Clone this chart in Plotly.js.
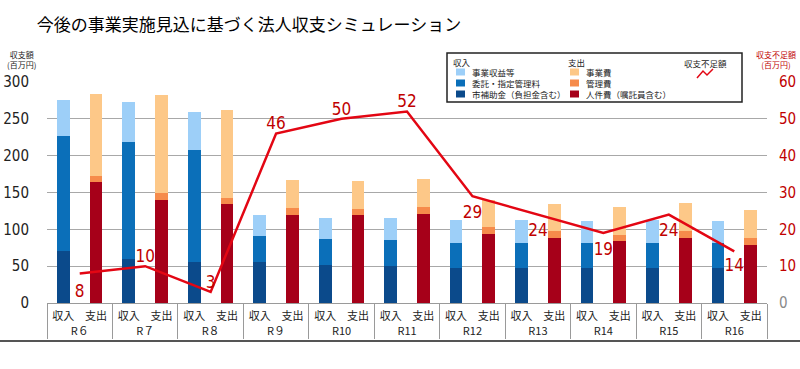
<!DOCTYPE html>
<html>
<head>
<meta charset="utf-8">
<script src="https://cdn.plot.ly/plotly-3.0.1.min.js"></script>
<style>html,body{margin:0;padding:0;background:#fff;}#chart{width:800px;height:369px;}</style>
</head>
<body>
<div id="chart"></div>
<script>
// ---- data ----
const years = ['R６','R７','R８','R９','R10','R11','R12','R13','R14','R15','R16'];
const incomeLabel = '収入';
const expenseLabel = '支出';
// income (百万円)
const shihojokin = [70, 60, 55, 56, 51, 50, 47, 47, 47, 47, 47];          // 市補助金（負担金含む）
const itaku      = [157, 158, 153, 35, 36, 35, 35, 35, 35, 35, 35];       // 委託・指定管理料
const jigyoShueki= [49, 55, 51, 29, 29, 30, 30, 30, 29, 30, 29];          // 事業収益等
// expense (百万円)
const jinkenhi   = [164, 140, 134, 120, 119, 121, 93.5, 88, 83.5, 88, 78.5]; // 人件費（嘱託員含む）
const kanrihi    = [9, 10, 9, 9, 9, 9, 9.5, 10, 9, 10, 9.5];                // 管理費
const jigyohi    = [111, 133, 119, 37.5, 38, 38, 37, 37, 38, 38, 38];       // 事業費
// deficit (百万円)
const fusoku     = [8, 10, 3, 46, 50, 52, 29, 24, 19, 24, 14];
const rightTicks = [0, 10, 20, 30, 40, 50, 60];

const incomeNames  = ['事業収益等', '委託・指定管理料', '市補助金（負担金含む）'];
const expenseNames = ['事業費', '管理費', '人件費（嘱託員含む）'];
const lineName = '収支不足額';

// ---- styles ----
const C = {
  lightBlue: '#9dcff8', midBlue: '#0b6fb9', navy: '#0b4a8b',
  lightOrange: '#fdc888', orange: '#f68b4b', darkRed: '#a60019',
  line: '#e30613', red: '#c00000'
};
const numFont = 'Liberation Sans Narrow, DejaVu Sans Condensed, Arial Narrow, sans-serif';
const jpFont = 'Noto Sans CJK JP, sans-serif';

const xInc = [years, years.map(() => incomeLabel)];
const xExp = [years, years.map(() => expenseLabel)];

function bar(x, y, name, color) {
  return {type: 'bar', x: x, y: y, name: name, marker: {color: color, line: {width: 0}},
          showlegend: false, hoverinfo: 'y+name'};
}

// label placement (style): above for R7..R11, below otherwise; invisible marker sizes push labels away
const labelPos  = ['bottom center','top center','top center','top center','top center','top center',
                   'bottom center','bottom center','bottom center','bottom center','bottom center'];
const labelPush = [16, 0, 0, 0, 0, 0, 13, 13, 13, 13, 9];

const traces = [
  bar(xInc, shihojokin, incomeNames[2], C.navy),
  bar(xInc, itaku, incomeNames[1], C.midBlue),
  bar(xInc, jigyoShueki, incomeNames[0], C.lightBlue),
  bar(xExp, jinkenhi, expenseNames[2], C.darkRed),
  bar(xExp, kanrihi, expenseNames[1], C.orange),
  bar(xExp, jigyohi, expenseNames[0], C.lightOrange),
  {
    type: 'scatter', mode: 'lines+markers+text', x: years, y: fusoku, name: lineName,
    xaxis: 'x2', yaxis: 'y2', showlegend: false,
    line: {color: C.line, width: 2.5},
    marker: {size: labelPush, color: 'rgba(0,0,0,0)', line: {width: 0}},
    text: fusoku.map(String),
    textposition: labelPos,
    textfont: {family: numFont, size: 17, color: C.red},
    cliponaxis: false
  }
];

// ---- helpers for paper coordinates (plot area: x 47..767, y 82..303) ----
const L = 47, R = 767, T = 82, B = 303;
const px = v => (v - L) / (R - L);
const py = v => (B - v) / (B - T);

const shapes = [];
const annotations = [];

// bottom rule under category labels
shapes.push({type: 'line', xref: 'paper', yref: 'paper', x0: px(0), x1: px(800), y0: py(341), y1: py(341),
             line: {color: '#555', width: 2}});
// legend box
shapes.push({type: 'rect', xref: 'paper', yref: 'paper', x0: px(447), x1: px(742), y0: py(102), y1: py(53),
             fillcolor: '#fff', line: {color: '#222', width: 1.5}, layer: 'above'});

const legFont = {family: jpFont, size: 8.5, color: '#222'};
function legText(text, x, y) {
  annotations.push({xref: 'paper', yref: 'paper', x: px(x), y: py(y), text: text, showarrow: false,
                    xanchor: 'left', yanchor: 'middle', align: 'left', font: legFont, borderpad: 0});
}
legText(incomeLabel, 452, 62);
legText(expenseLabel, 567, 62);
legText(lineName, 683, 63);
const rowsY = [72, 83, 94];
const incColors = [C.lightBlue, C.midBlue, C.navy];
const expColors = [C.lightOrange, C.orange, C.darkRed];
incomeNames.forEach((n, i) => {
  shapes.push({type: 'rect', xref: 'paper', yref: 'paper', x0: px(456), x1: px(465), y0: py(rowsY[i] + 3.5), y1: py(rowsY[i] - 3.5),
               fillcolor: incColors[i], line: {width: 0}, layer: 'above'});
});
expenseNames.forEach((n, i) => {
  shapes.push({type: 'rect', xref: 'paper', yref: 'paper', x0: px(570), x1: px(579), y0: py(rowsY[i] + 3.5), y1: py(rowsY[i] - 3.5),
               fillcolor: expColors[i], line: {width: 0}, layer: 'above'});
});
legText(incomeNames.join('<br>'), 471, rowsY[1]);
legText(expenseNames.join('<br>'), 585, rowsY[1]);
shapes.push({type: 'path', xref: 'paper', yref: 'paper', layer: 'above',
             path: `M ${px(697)} ${py(78)} L ${px(703)} ${py(71)} L ${px(707)} ${py(75)} L ${px(713)} ${py(69)}`,
             line: {color: C.line, width: 1.5}});

// axis unit titles
const unitFont = {family: jpFont, size: 8, color: '#222'};
annotations.push({xref: 'paper', yref: 'paper', x: px(21), y: py(60), text: '収支額<br>(百万円)', showarrow: false,
                  xanchor: 'center', yanchor: 'middle', font: unitFont, borderpad: 0});
annotations.push({xref: 'paper', yref: 'paper', x: px(776), y: py(60), text: '収支不足額<br>(百万円)', showarrow: false,
                  xanchor: 'center', yanchor: 'middle', font: Object.assign({}, unitFont, {color: C.red}), borderpad: 0});

const layout = {
  width: 800, height: 369,
  margin: {l: L, r: 800 - R, t: T, b: 369 - B, pad: 0},
  paper_bgcolor: '#fff', plot_bgcolor: '#fff',
  font: {family: jpFont, color: '#222'},
  title: {text: '今後の事業実施見込に基づく法人収支シミュレーション',
          font: {family: jpFont, size: 17, color: '#000'},
          x: 249 / 800, xanchor: 'center', xref: 'container', y: 1 - 25 / 369, yanchor: 'middle', yref: 'container'},
  barmode: 'stack', bargap: 0.61,
  showlegend: false,
  xaxis: {type: 'multicategory', showgrid: false, showline: true, linecolor: '#9a9a9a', linewidth: 1,
          showdividers: true, dividercolor: '#9a9a9a', dividerwidth: 1, ticklabelstandoff: 3,
          tickfont: {family: jpFont, size: 11, color: '#222'}, ticks: ''},
  xaxis2: {type: 'category', overlaying: 'x', categoryarray: years, categoryorder: 'array',
           range: [-0.5, years.length - 0.5], visible: false, showgrid: false},
  yaxis: {range: [0, 300], dtick: 50, showgrid: true, gridcolor: '#a8a8a8', gridwidth: 1,
          zeroline: false, showline: false, ticks: 'outside', ticklen: 14, tickcolor: 'rgba(0,0,0,0)',
          tickfont: {family: numFont, size: 15, color: '#222'}},
  yaxis2: {range: [0, 60], overlaying: 'y', side: 'right', showgrid: false, zeroline: false,
           tickmode: 'array', tickvals: rightTicks,
           ticktext: rightTicks.map(v => v === 0 ? '<span style="color:#8a8a8a">0</span>' : String(v)),
           showline: false, ticks: 'outside', ticklen: 8, tickcolor: 'rgba(0,0,0,0)',
           tickfont: {family: numFont, size: 15, color: C.red}},
  shapes: shapes,
  annotations: annotations
};

Plotly.newPlot('chart', traces, layout, {displayModeBar: false, staticPlot: true});
</script>
</body>
</html>
